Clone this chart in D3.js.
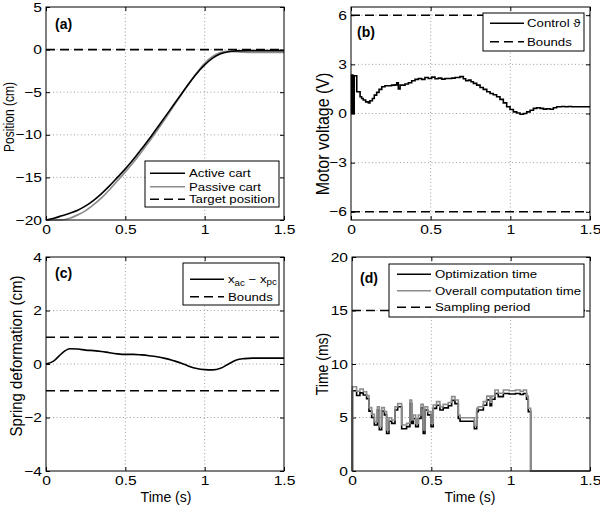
<!DOCTYPE html>
<html><head><meta charset="utf-8">
<script src="https://cdn.jsdelivr.net/npm/d3@7"></script>
<style>
body{margin:0;background:#fff}
text{font-family:"Liberation Sans",Arial,Helvetica,sans-serif;fill:#000}
</style>
</head><body>
<svg id="chart" width="600" height="505"></svg>
<script>
// ---------------- data ----------------
const xTickValues = [0, 0.5, 1, 1.5];

// (a) positions
const posTime = [0,0.05,0.1,0.15,0.2,0.25,0.3,0.35,0.4,0.45,0.5,0.55,0.6,0.65,0.7,0.75,0.8,0.85,0.9,0.95,1.0,1.05,1.1,1.15,1.2,1.25,1.3,1.35,1.4,1.45,1.5];
const activeCart = [-20,-19.8,-19.5,-19.2,-18.85,-18.35,-17.7,-16.9,-16,-15,-14,-12.9,-11.7,-10.5,-9.2,-7.9,-6.6,-5.3,-4,-2.8,-1.8,-1,-0.5,-0.25,-0.15,-0.12,-0.12,-0.12,-0.12,-0.12,-0.12];
const passiveCart = [-20,-20,-20,-19.8,-19.4,-18.9,-18.2,-17.4,-16.45,-15.4,-14.35,-13.25,-12.05,-10.8,-9.5,-8.15,-6.75,-5.35,-4,-2.75,-1.6,-0.8,-0.35,-0.2,-0.25,-0.3,-0.32,-0.32,-0.32,-0.32,-0.32];
const targetPosition = 0;
const posTicks = [-20,-15,-10,-5,0,5];

// (b) motor voltage (step signal)
const voltTime = [0,0.004,0.012,0.02,0.036,0.057,0.067,0.077,0.092,0.109,0.119,0.134,0.146,0.161,0.176,0.193,0.213,0.255,0.276,0.287,0.297,0.308,0.339,0.36,0.381,0.402,0.423,0.443,0.464,0.485,0.506,0.527,0.548,0.569,0.59,0.632,0.653,0.684,0.705,0.72,0.737,0.753,0.768,0.789,0.81,0.83,0.852,0.873,0.893,0.914,0.935,0.956,0.977,0.998,1.019,1.04,1.061,1.082,1.103,1.124,1.145,1.166,1.187,1.208,1.228,1.249,1.27,1.291,1.322,1.343,1.364,1.385,1.5];
const voltValue = [0,2.35,0,2.3,1.33,1.02,0.92,0.82,0.71,0.65,0.78,0.92,1.12,1.29,1.47,1.63,1.69,1.73,1.75,1.88,1.5,1.73,1.8,1.88,2.0,2.08,2.14,2.08,2.2,2.14,2.22,2.12,2.16,2.1,2.14,2.16,2.2,2.25,2.12,2.0,2.04,1.94,1.84,1.73,1.59,1.47,1.33,1.22,1.14,1.02,0.86,0.65,0.41,0.24,0.1,0.03,-0.05,0.0,0.1,0.2,0.31,0.35,0.31,0.27,0.29,0.26,0.35,0.41,0.43,0.41,0.43,0.41,0.41];
const voltBounds = [-6, 6];
const voltTicks = [-6,-3,0,3,6];

// (c) spring deformation
const springDeform = [0,0.12,0.4,0.57,0.56,0.52,0.5,0.47,0.42,0.38,0.36,0.36,0.34,0.31,0.27,0.21,0.13,0.04,-0.08,-0.17,-0.21,-0.22,-0.16,0,0.15,0.2,0.22,0.22,0.22,0.22,0.22];
const springBounds = [-1, 1];
const springTicks = [-4,-2,0,2,4];

// (d) computation times (step signals)
const compTime    = [0,0.003,0.029,0.05,0.071,0.092,0.107,0.124,0.141,0.16,0.172,0.187,0.204,0.218,0.233,0.25,0.271,0.288,0.313,0.344,0.365,0.376,0.386,0.401,0.418,0.435,0.449,0.46,0.477,0.498,0.512,0.533,0.554,0.575,0.607,0.628,0.649,0.67,0.681,0.771,0.786,0.796,0.828,0.849,0.87,0.88,0.901,0.922,0.954,0.99,1.03,1.06,1.08,1.1,1.111,1.126,1.5];
const overallTime = [0,7.88,7.45,7.66,7.41,7.04,5.92,5.3,4.6,6.0,4.14,5.92,5.55,3.83,4.98,4.77,6.0,6.3,4.3,4.45,6.63,4.77,5.24,4.45,5.24,6.23,3.83,6.0,5.55,4.45,6.17,6.48,6.0,6.23,6.4,6.95,6.63,5.24,4.98,4.24,5.86,6.0,6.48,7.0,6.4,7.0,7.57,7.26,7.57,7.5,7.57,7.45,7.57,7.0,5.86,0,0];
const optTime     = [0,7.5,7.05,7.3,7.1,6.75,5.6,5.0,4.3,5.7,3.85,5.6,5.25,3.5,4.65,4.45,5.7,6.0,3.95,4.15,6.3,4.45,4.9,4.15,4.9,5.9,3.5,5.7,5.25,4.15,5.85,6.15,5.7,5.9,6.1,6.6,6.3,4.9,4.65,3.95,5.55,5.7,6.15,6.65,6.1,6.7,7.25,6.95,7.25,7.2,7.25,7.15,7.25,6.7,5.55,0,0];
const samplingPeriod = 15;
const timeTicks = [0,5,10,15,20];

// ---------------- drawing ----------------
const svg = d3.select("#chart");
const FONT = '"Liberation Sans",Arial,Helvetica,sans-serif';
const TICK_FS = 13, TICK_SX = 1.2;
const LEG_FS = 11.5, LEG_SX = 1.15;
const fmt = d3.format("~g");

function panel(o) {
  const g = svg.append("g");
  const xs = d3.scaleLinear().domain([0, 1.5]).range([o.x0, o.x1]);
  const ys = d3.scaleLinear().domain(o.yDomain).range([o.y1, o.y0]);
  const grid = g.append("g").attr("stroke", "#a0a0a0").attr("stroke-width", 1).attr("stroke-dasharray", "1,2.5");
  xTickValues.filter(v => v > 0 && v < 1.5).forEach(v => {
    grid.append("line").attr("x1", xs(v)).attr("x2", xs(v)).attr("y1", o.y0).attr("y2", o.y1);
  });
  o.yTicks.filter(v => v > o.yDomain[0] && v < o.yDomain[1]).forEach(v => {
    grid.append("line").attr("x1", o.x0).attr("x2", o.x1).attr("y1", ys(v)).attr("y2", ys(v));
  });
  const axes = g.append("g").attr("class", "axes");
  const left = axes.append("g").attr("transform", `translate(${o.x0},0)`)
    .call(d3.axisLeft(ys).tickValues(o.yTicks).tickSizeInner(-4).tickSizeOuter(0).tickPadding(4).tickFormat(fmt));
  const bottom = axes.append("g").attr("transform", `translate(0,${o.y1})`)
    .call(d3.axisBottom(xs).tickValues(xTickValues).tickSizeInner(-4).tickSizeOuter(0).tickPadding(5).tickFormat(fmt));
  axes.append("g").attr("transform", `translate(${o.x1},0)`)
    .call(d3.axisRight(ys).tickValues(o.yTicks).tickSizeInner(-4).tickSizeOuter(0).tickFormat(""));
  axes.append("g").attr("transform", `translate(0,${o.y0})`)
    .call(d3.axisTop(xs).tickValues(xTickValues).tickSizeInner(-4).tickSizeOuter(0).tickFormat(""));
  axes.selectAll(".domain").remove();
  axes.selectAll("g").attr("font-family", FONT).attr("font-size", TICK_FS);
  axes.selectAll(".tick line").attr("stroke", "#000");
  left.selectAll(".tick text").attr("x", -4 / TICK_SX).attr("transform", `scale(${TICK_SX},1)`);
  bottom.selectAll(".tick text").attr("transform", `scale(${TICK_SX},1)`);
  return {g, xs, ys, o};
}

function frame(p) {
  const o = p.o;
  p.g.append("rect").attr("x", o.x0).attr("y", o.y0).attr("width", o.x1 - o.x0).attr("height", o.y1 - o.y0)
    .attr("fill", "none").attr("stroke", "#000").attr("stroke-width", 1);
}

function hline(p, v) {
  p.g.append("line").attr("x1", p.o.x0).attr("x2", p.o.x1).attr("y1", p.ys(v)).attr("y2", p.ys(v))
    .attr("stroke", "#000").attr("stroke-width", 1.6).attr("stroke-dasharray", "9,5");
}

function ylabel(x, y, txt, fs) {
  svg.append("text").attr("transform", `translate(${x},${y}) rotate(-90) scale(1,1.15)`)
    .attr("text-anchor", "middle").attr("dy", "0.35em").attr("font-size", fs).text(txt);
}
function xlabel(x, y, txt) {
  svg.append("text").attr("x", x).attr("y", y).attr("text-anchor", "middle").attr("font-size", 14).text(txt);
}
function tag(x, y, txt) {
  svg.append("text").attr("x", x).attr("y", y).attr("font-size", 14).attr("font-weight", "bold").text(txt);
}

function legend(x0, y0, x1, y1, items, lx0, lx1, tx) {
  const lg = svg.append("g");
  lg.append("rect").attr("x", x0).attr("y", y0).attr("width", x1 - x0).attr("height", y1 - y0)
    .attr("fill", "#fff").attr("stroke", "#000").attr("stroke-width", 1);
  items.forEach(it => {
    const l = lg.append("line").attr("x1", lx0).attr("x2", lx1).attr("y1", it.y).attr("y2", it.y)
      .attr("stroke", it.color).attr("stroke-width", it.w || 1.6);
    if (it.dash) l.attr("stroke-dasharray", "9,5");
    const t = lg.append("text").attr("transform", `translate(${tx},${it.y}) scale(${LEG_SX},1)`)
      .attr("dy", "0.36em").attr("font-size", LEG_FS);
    if (it.html) it.html(t); else t.text(it.label);
  });
}

// ----- (a)
const pa = panel({x0: 46, x1: 284, y0: 7, y1: 220, yDomain: [-20, 5], yTicks: posTicks});
hline(pa, targetPosition);
const lineA = d3.line().x((d, i) => pa.xs(posTime[i])).y(d => pa.ys(d)).curve(d3.curveMonotoneX);
pa.g.append("path").attr("d", lineA(passiveCart)).attr("fill", "none").attr("stroke", "#8c8c8c").attr("stroke-width", 1.7);
pa.g.append("path").attr("d", lineA(activeCart)).attr("fill", "none").attr("stroke", "#000").attr("stroke-width", 1.6);
frame(pa);

// ----- (b)
const pb = panel({x0: 351, x1: 590, y0: 7, y1: 220, yDomain: [-6.5, 6.5], yTicks: voltTicks});
voltBounds.forEach(v => hline(pb, v));
const lineB = d3.line().x((d, i) => pb.xs(voltTime[i])).y(d => pb.ys(d)).curve(d3.curveStepAfter);
pb.g.append("path").attr("d", lineB(voltValue)).attr("fill", "none").attr("stroke", "#000").attr("stroke-width", 1.6);
frame(pb);

// ----- (c)
const pc = panel({x0: 46, x1: 284, y0: 257, y1: 471, yDomain: [-4, 4], yTicks: springTicks});
springBounds.forEach(v => hline(pc, v));
const lineC = d3.line().x((d, i) => pc.xs(posTime[i])).y(d => pc.ys(d)).curve(d3.curveMonotoneX);
pc.g.append("path").attr("d", lineC(springDeform)).attr("fill", "none").attr("stroke", "#000").attr("stroke-width", 1.6);
frame(pc);

// ----- (d)
const pd = panel({x0: 352, x1: 590, y0: 257, y1: 471, yDomain: [0, 20], yTicks: timeTicks});
hline(pd, samplingPeriod);
const lineD = d3.line().x((d, i) => pd.xs(compTime[i])).y(d => pd.ys(d)).curve(d3.curveStepAfter);
pd.g.append("path").attr("d", lineD(optTime)).attr("fill", "none").attr("stroke", "#000").attr("stroke-width", 1.6);
pd.g.append("path").attr("d", lineD(overallTime)).attr("fill", "none").attr("stroke", "#8c8c8c").attr("stroke-width", 1.6);
frame(pd);

// labels
ylabel(9, 117, "Position (cm)", 12);
ylabel(323, 134, "Motor voltage (V)", 16);
ylabel(16, 356, "Spring deformation (cm)", 15);
ylabel(322, 364, "Time (ms)", 14);
xlabel(166, 502, "Time (s)");
xlabel(470, 502, "Time (s)");
tag(55, 29, "(a)");
tag(357, 37, "(b)");
tag(55, 278, "(c)");
tag(360, 283, "(d)");

// legends
legend(145, 161, 279, 207, [
  {y: 173.3, color: "#000", label: "Active cart"},
  {y: 186.7, color: "#8c8c8c", label: "Passive cart"},
  {y: 199.3, color: "#000", dash: true, label: "Target position"}
], 150, 185, 189);
legend(483, 13, 584, 51, [
  {y: 23.3, color: "#000", label: "Control \u03D1"},
  {y: 41.7, color: "#000", dash: true, label: "Bounds"}
], 490, 524, 527);
legend(183, 263, 279, 305, [
  {y: 279.3, color: "#000", html: t => {
    t.append("tspan").text("x");
    t.append("tspan").attr("font-size", 8.5).attr("dy", "0.3em").text("ac");
    t.append("tspan").attr("dy", "-0.3em").text(" \u2212 x");
    t.append("tspan").attr("font-size", 8.5).attr("dy", "0.3em").text("pc");
  }},
  {y: 296.7, color: "#000", dash: true, label: "Bounds"}
], 190, 224, 228);
legend(389, 264, 584, 317, [
  {y: 274.3, color: "#000", label: "Optimization time"},
  {y: 290.7, color: "#8c8c8c", label: "Overall computation time"},
  {y: 307.3, color: "#000", dash: true, label: "Sampling period"}
], 397, 431, 435);
</script>
</body></html>
